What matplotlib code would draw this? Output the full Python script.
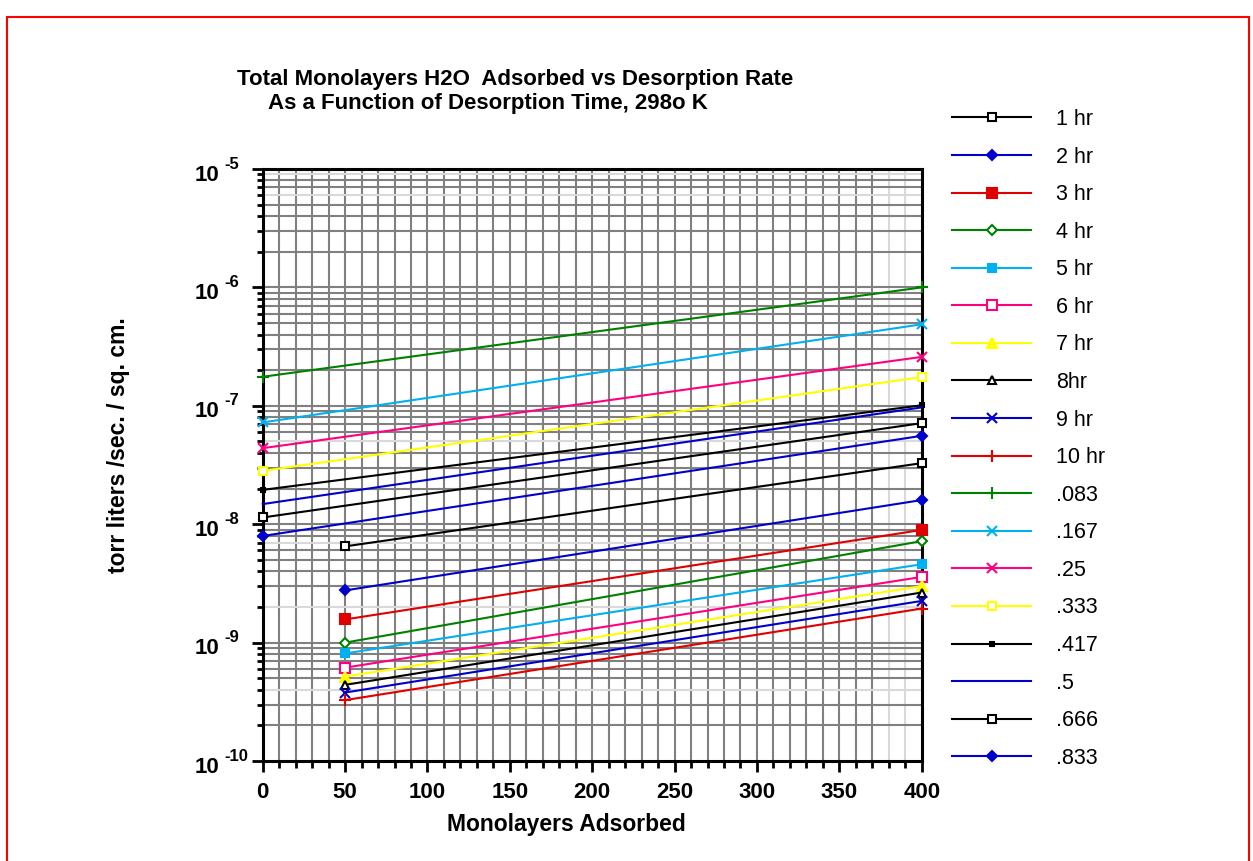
import matplotlib
matplotlib.use("Agg")
import matplotlib.pyplot as plt
import numpy as np
from matplotlib.patches import Rectangle
from matplotlib.ticker import FixedLocator, NullFormatter

plt.rcParams["font.family"] = ["Liberation Sans", "DejaVu Sans"]

# -------------------------
# DATA
# -------------------------
hour_labels = ["1 hr", "2 hr", "3 hr", "4 hr", "5 hr", "6 hr", "7 hr", "8hr", "9 hr", "10 hr"]
hour_x = [50, 400]
hour_start = [6.5e-9, 2.76e-9, 1.57e-9, 1.0e-9, 8.1e-10, 6.15e-10, 5.17e-10, 4.4e-10, 3.79e-10, 3.27e-10]
hour_end = [3.28e-8, 1.6e-8, 8.95e-9, 7.2e-9, 4.59e-9, 3.59e-9, 3.0e-9, 2.65e-9, 2.25e-9, 1.94e-9]

frac_labels = [".083", ".167", ".25", ".333", ".417", ".5", ".666", ".833"]
frac_x = [0, 400]
frac_start = [1.76e-7, 7.24e-8, 4.39e-8, 2.82e-8, 1.95e-8, 1.48e-8, 1.14e-8, 7.96e-9]
frac_end = [1.0e-6, 4.88e-7, 2.59e-7, 1.75e-7, 1.01e-7, 9.7e-8, 7.14e-8, 5.58e-8]

x_ticks = [0, 50, 100, 150, 200, 250, 300, 350, 400]
decades = [-10, -9, -8, -7, -6, -5]

# -------------------------
# STYLES
# -------------------------
BLACK, BLUE, RED, GREEN = "#000000", "#0000CC", "#E00000", "#008000"
CYAN, MAGENTA, YELLOW = "#00B0F0", "#FF0080", "#FFFF00"

hour_styles = [
    dict(color=BLACK, marker="s", mfc="white", ms=6),
    dict(color=BLUE, marker="D", mfc=BLUE, ms=5),
    dict(color=RED, marker="s", mfc=RED, ms=7),
    dict(color=GREEN, marker="D", mfc="white", ms=5),
    dict(color=CYAN, marker="s", mfc=CYAN, ms=6),
    dict(color=MAGENTA, marker="s", mfc="white", ms=7),
    dict(color=YELLOW, marker="^", mfc=YELLOW, ms=7),
    dict(color=BLACK, marker="^", mfc="white", ms=6),
    dict(color=BLUE, marker="x", ms=7),
    dict(color=RED, marker="+", ms=8),
]
frac_styles = [
    dict(color=GREEN, marker="+", ms=8),
    dict(color=CYAN, marker="x", ms=7),
    dict(color=MAGENTA, marker="x", ms=7),
    dict(color=YELLOW, marker="s", mfc="white", ms=6),
    dict(color=BLACK, marker="s", mfc=BLACK, ms=3),
    dict(color=BLUE, marker="None"),
    dict(color=BLACK, marker="s", mfc="white", ms=6),
    dict(color=BLUE, marker="D", mfc=BLUE, ms=5),
]

GRID_DARK = "#808080"
GRID_LIGHT = "#D9D9D9"
light_x = [380, 390]
light_y = [9e-6, 6e-6, 5e-8, 7e-9, 2e-9, 4e-10]

# -------------------------
# FIGURE
# -------------------------
fig = plt.figure(figsize=(12.53, 8.61), dpi=100)
ax = fig.add_axes([0.2097, 0.1161, 0.5259, 0.6876])
ax.set_yscale("log")
ax.set_xlim(0, 400)
ax.set_ylim(1e-10, 1e-5)

# grid
for gx in np.arange(10, 400, 10):
    c = GRID_LIGHT if gx in light_x else GRID_DARK
    ax.axvline(gx, color=c, lw=1.5, zorder=1)
for d in decades[:-1]:
    for m in range(1, 10):
        if d == decades[0] and m == 1:
            continue
        v = m * 10.0 ** d
        is_light = any(np.isclose(v, lv, rtol=1e-6, atol=0) for lv in light_y)
        ax.axhline(v, color=GRID_LIGHT if is_light else GRID_DARK, lw=1.5, zorder=1)

# series
for lab, y0, y1, st in zip(hour_labels, hour_start, hour_end, hour_styles):
    ax.plot(hour_x, [y0, y1], lw=1.5, mew=1.5, label=lab, clip_on=False, zorder=4, **st)
for lab, y0, y1, st in zip(frac_labels, frac_start, frac_end, frac_styles):
    ax.plot(frac_x, [y0, y1], lw=1.5, mew=1.5, label=lab, clip_on=False, zorder=4, **st)

# axes styling
for s in ax.spines.values():
    s.set_linewidth(2.2)
    s.set_color("black")
    s.set_zorder(3)

ax.set_xticks(x_ticks)
ax.set_xticklabels([str(t) for t in x_ticks], fontsize=16, fontweight="bold")
ax.xaxis.set_minor_locator(FixedLocator(np.arange(0, 401, 10)))
ax.tick_params(axis="x", which="major", length=8, width=2, pad=7)
ax.tick_params(axis="x", which="minor", length=5, width=2)

ax.yaxis.set_major_locator(FixedLocator([10.0 ** d for d in decades]))
ax.yaxis.set_major_formatter(NullFormatter())
ax.yaxis.set_minor_locator(FixedLocator([m * 10.0 ** d for d in decades[:-1] for m in range(2, 10)]))
ax.yaxis.set_minor_formatter(NullFormatter())
ax.tick_params(axis="y", which="major", length=8, width=2)
ax.tick_params(axis="y", which="minor", length=4, width=2)

for d in decades:
    ax.annotate("10", xy=(0, 10.0 ** d), xycoords=("axes fraction", "data"),
                xytext=(-43, -6), textcoords="offset pixels",
                ha="right", va="center", fontsize=16, fontweight="bold")
    ax.annotate(str(d), xy=(0, 10.0 ** d), xycoords=("axes fraction", "data"),
                xytext=(-38, 5), textcoords="offset pixels",
                ha="left", va="center", fontsize=12, fontweight="bold")

fig.text(566 / 1253, 1 - 825 / 861, "Monolayers Adsorbed",
         ha="center", va="center", fontsize=16.5, fontweight="bold")
fig.text(118 / 1253, 1 - 445 / 861, "torr liters /sec. / sq. cm.", rotation=90,
         ha="center", va="center", fontsize=16.5, fontweight="bold")

fig.text(237 / 1253, 1 - 80 / 861, "Total Monolayers H2O  Adsorbed vs Desorption Rate",
         ha="left", va="center", fontsize=16, fontweight="bold")
fig.text(268 / 1253, 1 - 104 / 861, "As a Function of Desorption Time, 298o K",
         ha="left", va="center", fontsize=16, fontweight="bold")

fig.legend(loc="upper left", bbox_to_anchor=(952 / 1253, 1 - 109 / 861),
           frameon=False, fontsize=15.5, handlelength=3.67, handletextpad=1.16,
           labelspacing=0.77, borderaxespad=0, borderpad=0)

# red outer frame
fig.add_artist(Rectangle((7 / 1253, -0.05), 1242 / 1253, 1.05 - 17 / 861,
                         transform=fig.transFigure, fill=False,
                         edgecolor="#FF0000", lw=1.5))

fig.savefig("out.png", dpi=100)
